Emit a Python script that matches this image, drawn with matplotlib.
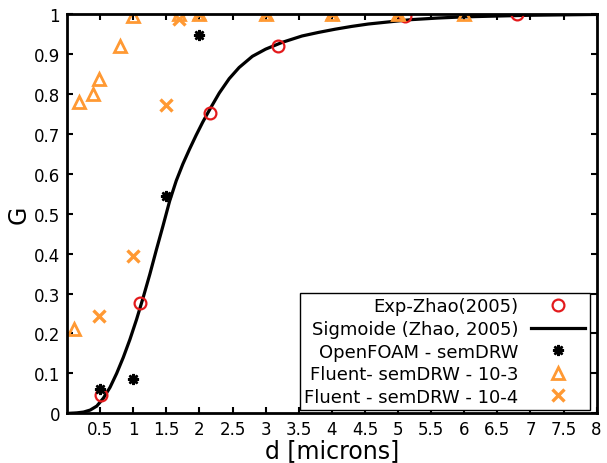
import matplotlib
matplotlib.use("Agg")
import matplotlib.pyplot as plt
from matplotlib.ticker import FixedLocator

# Experimental data (Zhao 2005)
exp_d = [0.52, 1.10, 2.16, 3.18, 5.10, 6.79]
exp_g = [0.045, 0.277, 0.754, 0.922, 0.997, 1.0]

# Sigmoid curve
sig_d = [0.05, 0.15, 0.25, 0.35, 0.45, 0.55, 0.65, 0.75, 0.85, 0.95, 1.05,
         1.15, 1.25, 1.35, 1.45, 1.55, 1.65, 1.75, 1.85, 1.95, 2.05, 2.15,
         2.3, 2.45, 2.6, 2.8, 3.0, 3.25, 3.55, 3.8, 4.05, 4.3, 4.55, 4.9,
         5.2, 5.6, 6.0, 6.5, 7.0, 7.5, 8.0]
sig_g = [0.0, 0.001, 0.003, 0.008, 0.018, 0.038, 0.065, 0.10, 0.14, 0.185,
         0.235, 0.29, 0.348, 0.41, 0.47, 0.532, 0.583, 0.625, 0.662, 0.697,
         0.730, 0.760, 0.803, 0.839, 0.867, 0.895, 0.913, 0.93, 0.946, 0.955,
         0.963, 0.97, 0.976, 0.982, 0.987, 0.991, 0.994, 0.996, 0.998, 0.999,
         1.0]

# OpenFOAM - semDRW
of_d = [0.5, 1.0, 1.5, 2.0]
of_g = [0.060, 0.085, 0.544, 0.948]

# Fluent - semDRW - 10-3
f3_d = [0.1, 0.18, 0.39, 0.48, 0.8, 1.0, 1.69, 2.0, 3.0, 4.0, 5.0, 6.0]
f3_g = [0.212, 0.78, 0.80, 0.838, 0.92, 0.997, 1.0, 1.0, 1.0, 1.0, 1.0, 1.0]

# Fluent - semDRW - 10-4
f4_d = [0.48, 1.0, 1.5, 1.69, 2.0, 3.0, 4.0, 5.0]
f4_g = [0.243, 0.394, 0.772, 0.988, 1.0, 1.0, 1.0, 1.0]

xticks = [0.5, 1, 1.5, 2, 2.5, 3, 3.5, 4, 4.5, 5, 5.5, 6, 6.5, 7, 7.5, 8]
xticklabels = ["0.5", "1", "1.5", "2", "2.5", "3", "3.5", "4", "4.5", "5",
               "5.5", "6", "6.5", "7", "7.5", "8"]
yticks = [0, 0.1, 0.2, 0.3, 0.4, 0.5, 0.6, 0.7, 0.8, 0.9, 1]
yticklabels = ["0", "0.1", "0.2", "0.3", "0.4", "0.5", "0.6", "0.7", "0.8", "0.9", "1"]

orange = "#ff9933"

plt.rcParams['font.family'] = ['DejaVu Sans']
fig = plt.figure(figsize=(6.07, 4.64), dpi=100)
ax = fig.add_axes([0.1104, 0.1072, 0.8725, 0.8595])

ax.plot(exp_d, exp_g, linestyle='none', marker='o', markersize=8.5,
        markerfacecolor='none', markeredgecolor='#e31a1c', markeredgewidth=1.6,
        label='Exp-Zhao(2005)', zorder=4)
ax.plot(sig_d, sig_g, color='black', linewidth=2.3,
        label='Sigmoide (Zhao, 2005)', zorder=3)
ax.plot(of_d, of_g, linestyle='none', marker=(8, 2, 0), markersize=8,
        markeredgecolor='black', markeredgewidth=1.8, color='black',
        label='OpenFOAM - semDRW', zorder=5)
ax.plot(f3_d, f3_g, linestyle='none', marker='^', markersize=8.5,
        markerfacecolor='none', markeredgecolor=orange, markeredgewidth=2.0,
        label='Fluent- semDRW - 10-3', zorder=6)
ax.plot(f4_d, f4_g, linestyle='none', marker='x', markersize=8.5,
        markeredgecolor=orange, markeredgewidth=2.4, color=orange,
        label='Fluent - semDRW - 10-4', zorder=6)

ax.set_xlim(0, 8)
ax.set_ylim(0, 1)
ax.xaxis.set_major_locator(FixedLocator(xticks))
ax.set_xticklabels(xticklabels)
ax.yaxis.set_major_locator(FixedLocator(yticks))
ax.set_yticklabels(yticklabels)
ax.tick_params(direction='in', length=4, width=1.5, top=True, right=True,
               labelsize=12, pad=5)
for s in ax.spines.values():
    s.set_linewidth(2)
    s.set_zorder(7)

ax.set_xlabel('d [microns]', fontsize=17, labelpad=0)
ax.set_ylabel('G', fontsize=17, labelpad=2)

leg = ax.legend(loc='lower right', bbox_to_anchor=(0.987, 0.008),
                borderaxespad=0, markerfirst=False, fontsize=13,
                frameon=True, fancybox=False, framealpha=1,
                edgecolor='black', handlelength=3.0, handletextpad=0.7,
                labelspacing=0.25, borderpad=0.25)
leg.get_frame().set_linewidth(1.0)
leg.set_zorder(8)

fig.savefig('out.png', dpi=100)
